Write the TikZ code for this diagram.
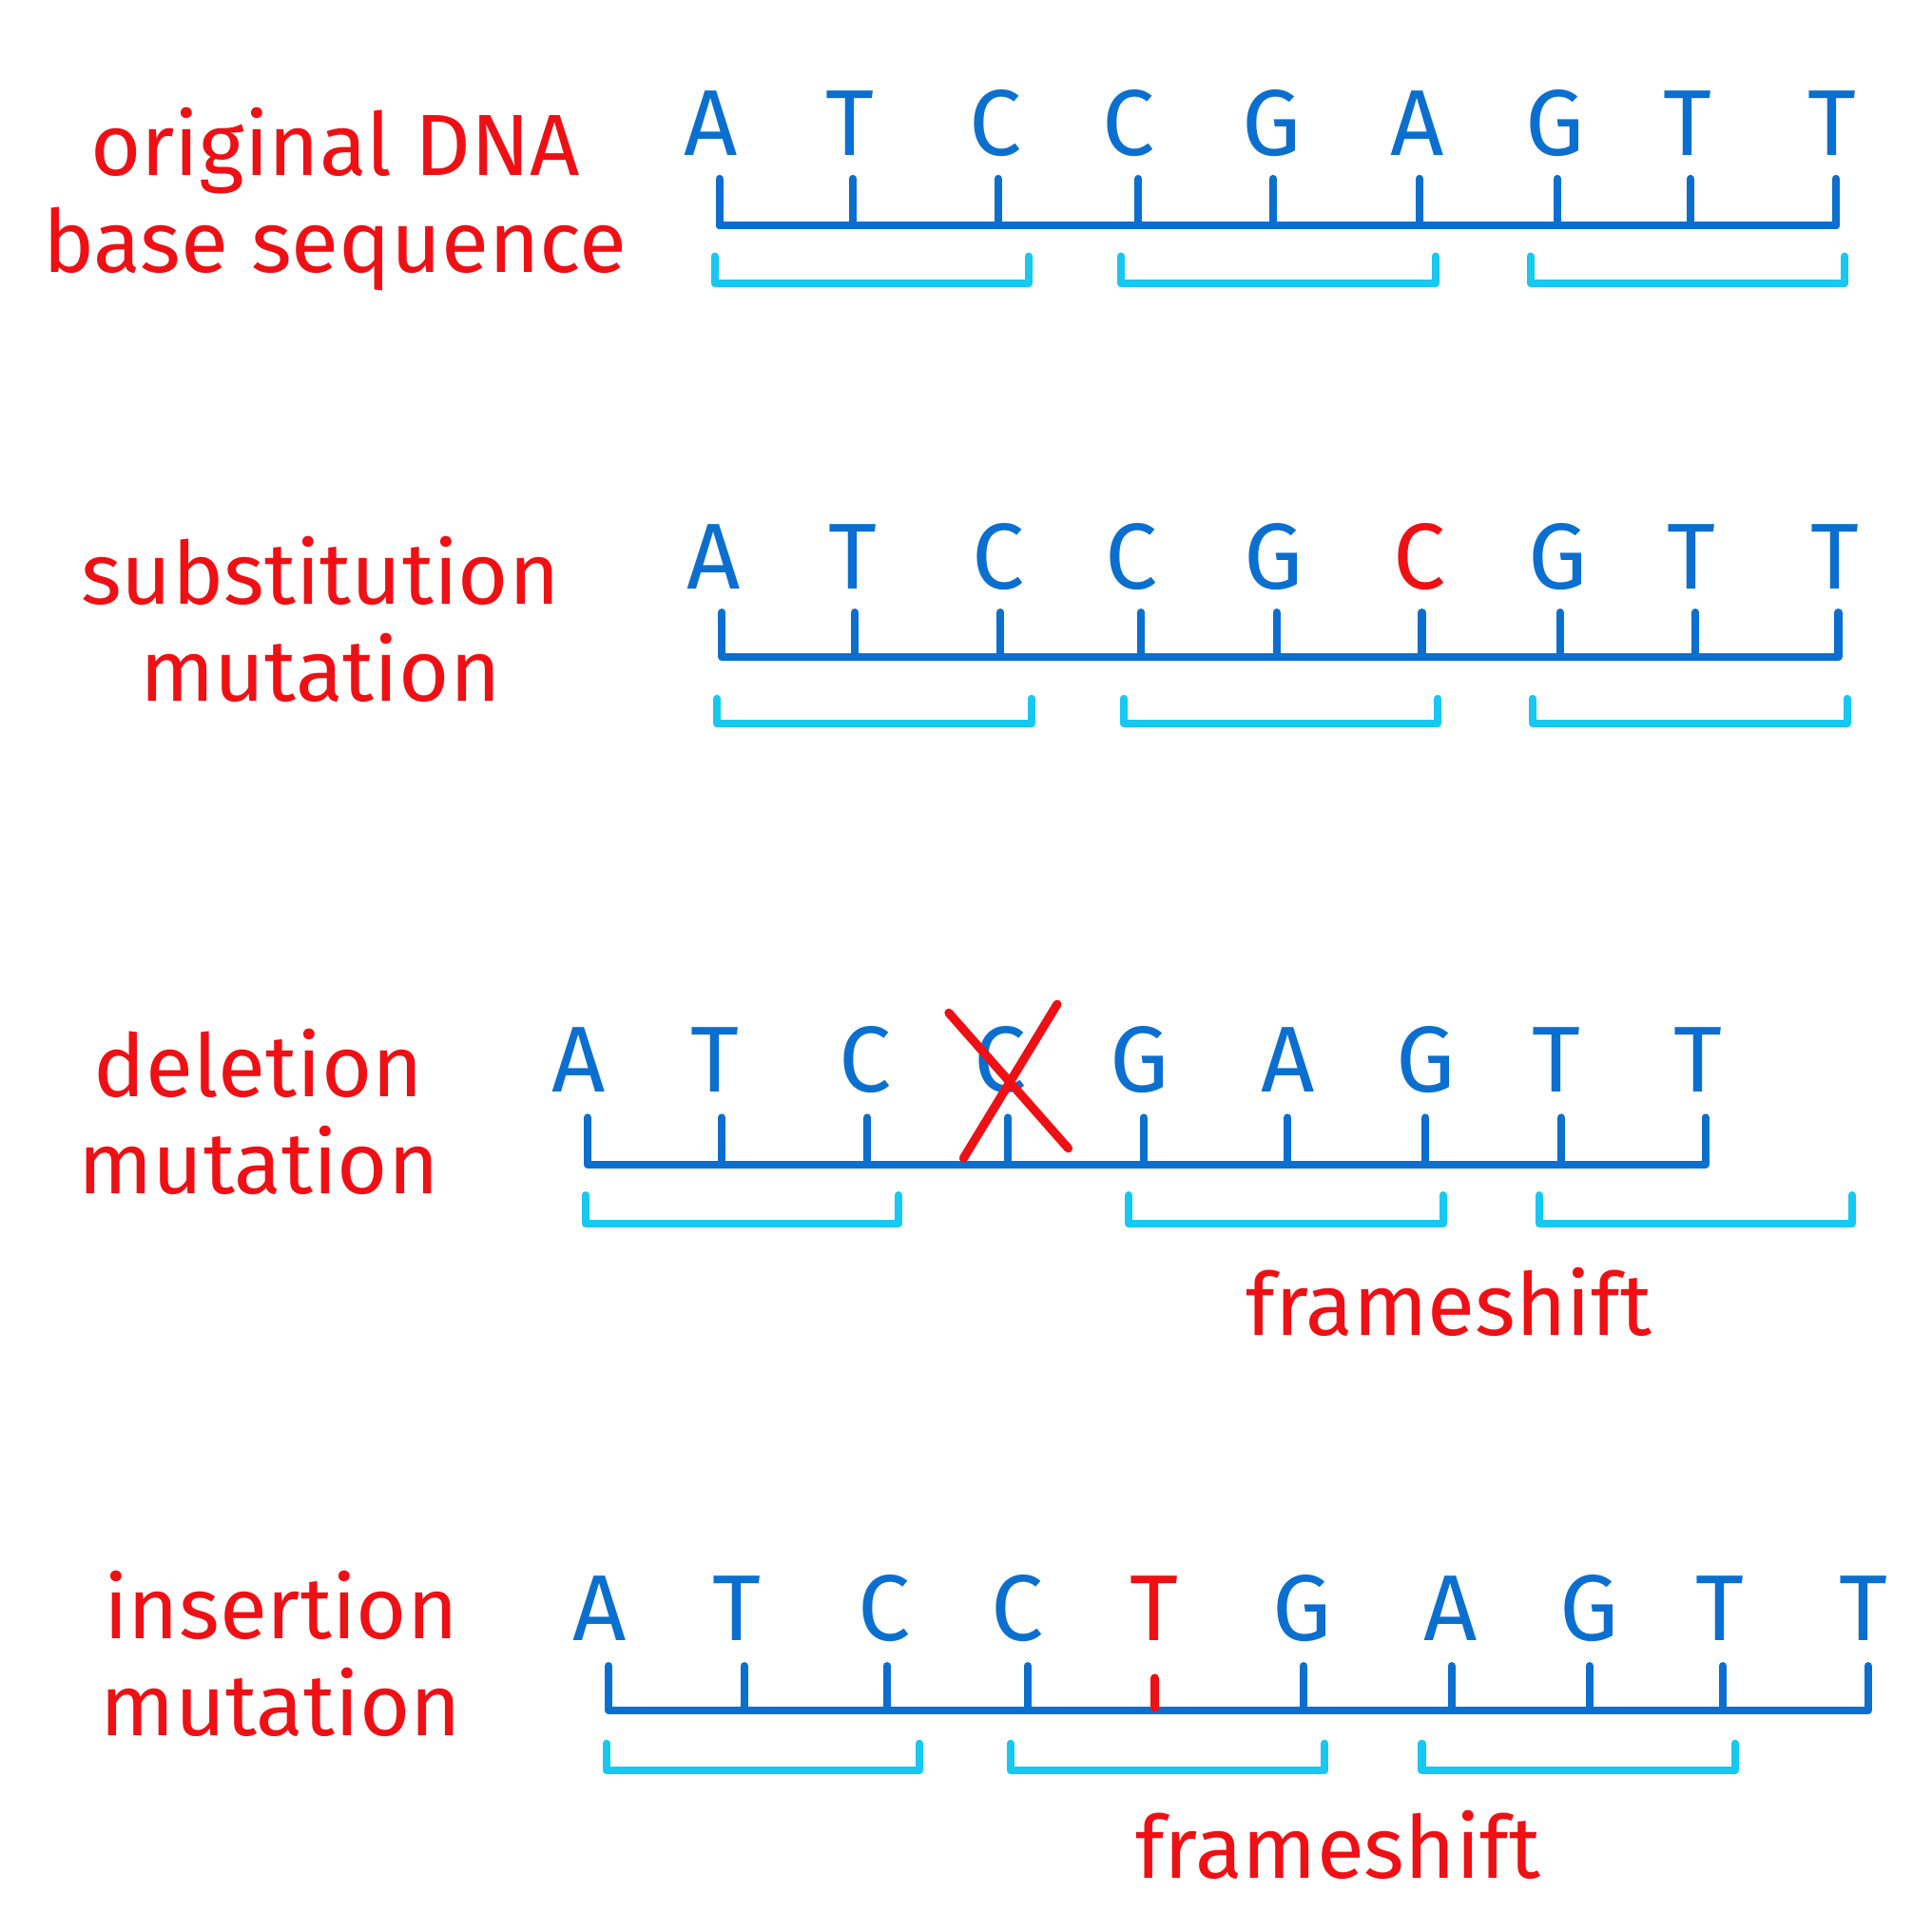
\documentclass[tikz,border=0pt]{standalone}
\usepackage{fontspec}
\setmainfont{Fira Sans}
\usetikzlibrary{positioning}
\definecolor{dnablue}{HTML}{0B6FCF}
\definecolor{dnacyan}{HTML}{16C8F2}
\definecolor{dnared}{HTML}{EE1014}

\tikzset{
  base/.style={text=dnablue, font=\fontsize{28}{28}\selectfont, inner sep=0pt},
  strand/.style={draw=dnablue, line width=2.3pt, line cap=round, line join=round},
  codon/.style={draw=dnacyan, line width=2.3pt, line cap=round, line join=round},
  mutlabel/.style={text=dnared, font=\fontsize{26}{29}\selectfont, align=center, inner sep=0pt},
  strike/.style={draw=dnared, line width=2.6pt, line cap=round}
}

\begin{document}
\begin{tikzpicture}[x=0.012959cm, y=-0.012959cm]
  \fill[white] (0,0) rectangle (1568,1568);
  \useasboundingbox (0,0) rectangle (1568,1568);

  % original sequence
  \node[mutlabel] (orig) at (272,162) {original DNA\\base sequence};
  \foreach \l/\x [count=\i] in {A/577,T/690,C/808,C/916,G/1032,A/1150,G/1262,T/1370,T/1487}
    \node[base] (a\i) at (\x,100) {\l};
  \foreach \x in {584,692,810,924,1033,1152,1264,1372,1490}
    \draw[strand] (\x,145) -- (\x,183);
  \draw[strand] (584,183) -- (1490,183);
  \foreach \s/\e in {580/835,910/1165,1242/1497}
    \draw[codon] (\s,208) -- (\s,230) -- (\e,230) -- (\e,208);

  % substitution
  \node[mutlabel] (subst) at (260,503) {substitution\\mutation};
  \foreach \l/\x/\c [count=\i] in {A/579/dnablue,T/692/dnablue,C/810/dnablue,C/918/dnablue,G/1034/dnablue,C/1152/dnared,G/1264/dnablue,T/1373/dnablue,T/1489/dnablue}
    \node[base, text=\c] (b\i) at (\x,452) {\l};
  \foreach \x in {586,694,812,926,1036,1154,1266,1376,1492}
    \draw[strand] (\x,497) -- (\x,533);
  \draw[strand] (586,533) -- (1492,533);
  \foreach \s/\e in {582/837,912/1167,1244/1499}
    \draw[codon] (\s,567) -- (\s,587) -- (\e,587) -- (\e,567);

  % deletion
  \node[mutlabel] (del) at (210,902) {deletion\\mutation};
  \foreach \l/\x [count=\i] in {A/470,T/580,C/702,C/812,G/925,A/1045,G/1157,T/1263,T/1378}
    \node[base] (c\i) at (\x,860) {\l};
  \foreach \x in {477,586,704,818,928,1045,1157,1267,1384}
    \draw[strand] (\x,907) -- (\x,945);
  \draw[strand] (477,945) -- (1384,945);
  \draw[strike] ([shift={(-42,-38)}]c4.center) -- ([shift={(55,72)}]c4.center);
  \draw[strike] ([shift={(46,-45)}]c4.center) -- ([shift={(-30,80)}]c4.center);
  \foreach \s/\e in {475/729,916/1171,1249/1503}
    \draw[codon] (\s,970) -- (\s,993) -- (\e,993) -- (\e,970);
  \node[mutlabel] (shift1) at (1176,1057) {frameshift};

  % insertion
  \node[mutlabel] (ins) at (228,1342) {insertion\\mutation};
  \foreach \l/\x/\c [count=\i] in {A/487/dnablue,T/598/dnablue,C/718/dnablue,C/826/dnablue,T/937/dnared,G/1057/dnablue,A/1177/dnablue,G/1290/dnablue,T/1396/dnablue,T/1512/dnablue}
    \node[base, text=\c] (d\i) at (\x,1305) {\l};
  \foreach \x in {494,604,720,834,1058,1178,1290,1398,1516}
    \draw[strand] (\x,1352) -- (\x,1388);
  \draw[strand] (494,1388) -- (1516,1388);
  \draw[strike] (937,1362) -- (937,1386);
  \foreach \s/\e in {492/746,820/1075,1154/1408}
    \draw[codon] (\s,1415) -- (\s,1437) -- (\e,1437) -- (\e,1415);
  \node[mutlabel] (shift2) at (1086,1497) {frameshift};
\end{tikzpicture}
\end{document}
